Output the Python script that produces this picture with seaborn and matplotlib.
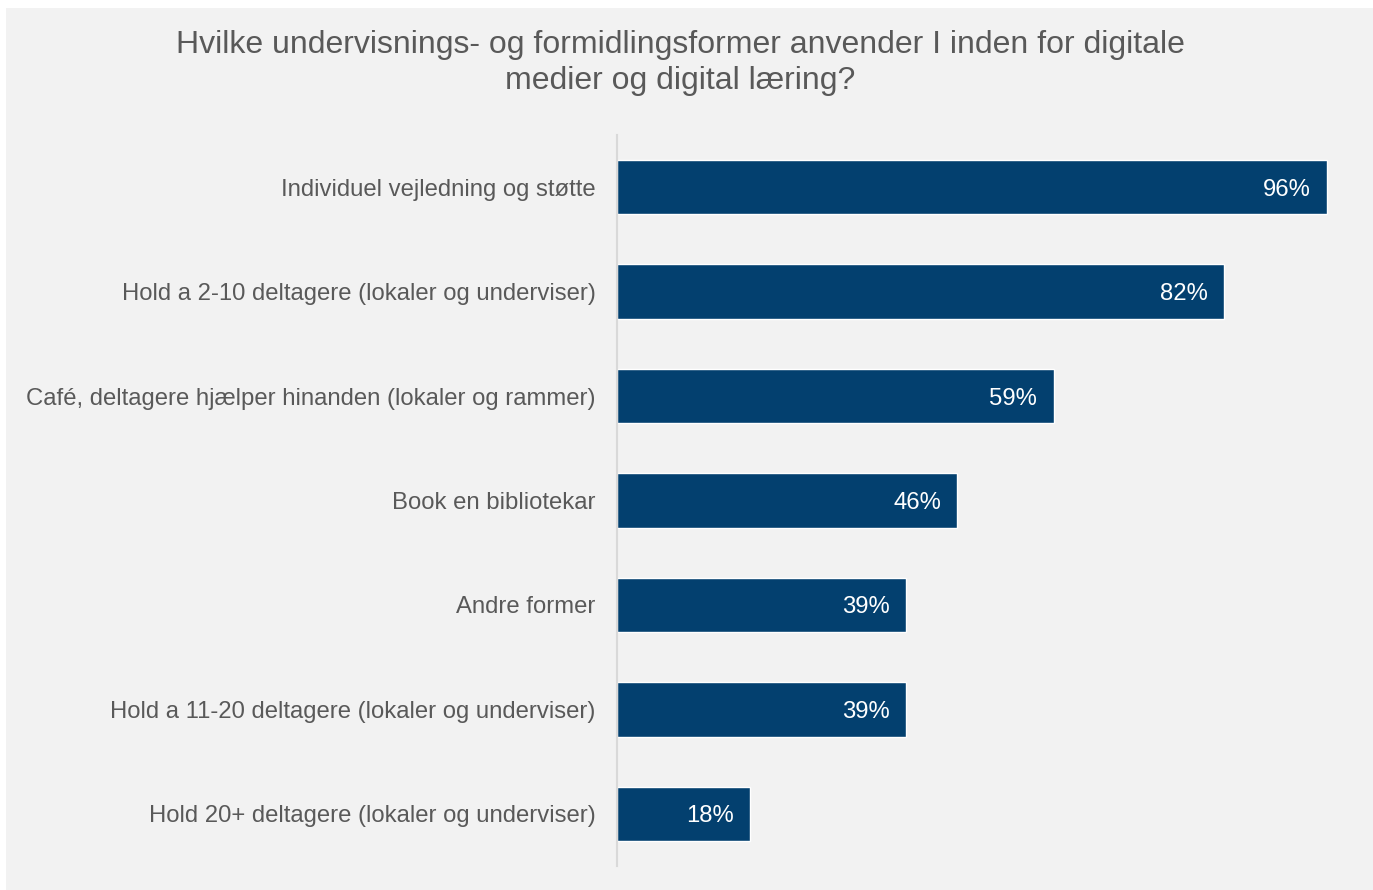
import pandas as pd
import matplotlib.pyplot as plt
import seaborn as sns
from matplotlib.patches import Rectangle

# 数据
kategorier = [
    'Individuel vejledning og støtte',
    'Hold a 2-10 deltagere (lokaler og underviser)',
    'Café, deltagere hjælper hinanden (lokaler og rammer)',
    'Book en bibliotekar',
    'Andre former',
    'Hold a 11-20 deltagere (lokaler og underviser)',
    'Hold 20+ deltagere (lokaler og underviser)',
]
andele = [96, 82, 59, 46, 39, 39, 18]

titel = 'Hvilke undervisnings- og formidlingsformer anvender I inden for digitale\nmedier og digital læring?'

sns.set_style('white')
plt.rcParams['font.family'] = ['Liberation Sans', 'DejaVu Sans']

df = pd.DataFrame({'kategori': kategorier, 'andel': andele})

fig = plt.figure(figsize=(13.73, 8.90), dpi=100, facecolor='white')
# grå baggrund
fig.patches.append(Rectangle((6 / 1373, 0), 1 - 6 / 1373, 1 - 8 / 890,
                             transform=fig.transFigure, facecolor='#f2f2f2',
                             edgecolor='none', zorder=-10))
ax = fig.add_axes([617 / 1373, 1 - 866 / 890, (1357 - 617) / 1373, (866 - 135) / 890])
ax.set_facecolor('#f2f2f2')

sns.barplot(data=df, x='andel', y='kategori', color='#03406f', width=0.52,
            saturation=1, ax=ax)

ax.set_xlim(0, 100)
ax.set_xlabel('')
ax.set_ylabel('')
ax.set_xticks([])
ax.tick_params(axis='y', length=0, pad=15.5, labelsize=17.2, labelcolor='#595959')
for s in ['top', 'right', 'bottom']:
    ax.spines[s].set_visible(False)
ax.spines['left'].set_color('#d9d9d9')
ax.spines['left'].set_linewidth(1.5)

for i, v in enumerate(andele):
    ax.text(v - 2.2, i, f'{v}%', ha='right', va='center_baseline', color='white',
            fontsize=17.2)

fig.text(680 / 1373, 1 - 63 / 890, titel, ha='center', va='center',
         fontsize=23, color='#595959', linespacing=1.3)

fig.savefig('out.png', dpi=100, facecolor='white')
